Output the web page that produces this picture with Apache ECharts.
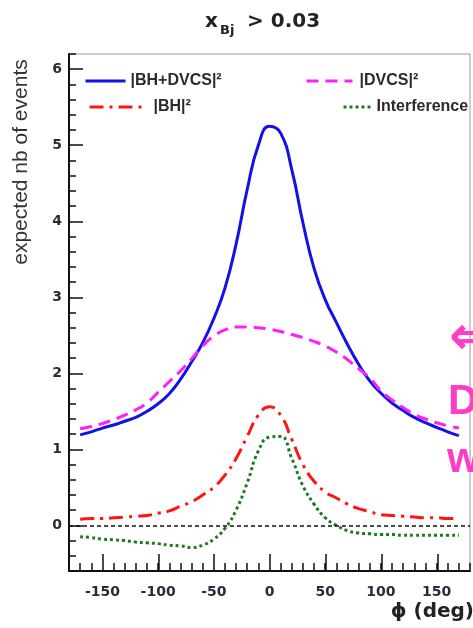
<!DOCTYPE html>
<html>
<head>
    <meta charset="UTF-8">
    <title>DVCS phi distribution</title>
    <script src="https://cdn.jsdelivr.net/npm/echarts@6/dist/echarts.min.js"></script>
    <style>
        html, body { margin: 0; padding: 0; background: #fff; }
    </style>
</head>
<body>
    <div id="main" style="width: 473px;height:628px;"></div>
</body>

<script>
  // phi (deg)
  const phi = [-170, -160, -150, -140, -130, -120, -110, -100, -90, -80, -70, -60, -50, -40, -30, -20, -10,
    0, 10, 20, 30, 40, 50, 60, 70, 80, 90, 100, 110, 120, 130, 140, 150, 160, 170]

  // |BH+DVCS|^2
  const bhDvcs = [1.19, 1.23, 1.28, 1.32, 1.37, 1.42, 1.50, 1.60, 1.73, 1.92, 2.15, 2.40, 2.72, 3.12, 3.70, 4.42, 5.00,
    5.25, 5.16, 4.68, 3.98, 3.38, 2.97, 2.67, 2.38, 2.12, 1.90, 1.74, 1.61, 1.51, 1.42, 1.35, 1.29, 1.23, 1.18]
  // |DVCS|^2
  const dvcs = [1.27, 1.30, 1.34, 1.39, 1.45, 1.52, 1.61, 1.75, 1.89, 2.03, 2.19, 2.36, 2.49, 2.57, 2.61, 2.61, 2.60,
    2.58, 2.55, 2.51, 2.47, 2.42, 2.36, 2.28, 2.18, 2.06, 1.94, 1.77, 1.65, 1.55, 1.46, 1.40, 1.35, 1.31, 1.28]
  // |BH|^2
  const bh = [0.08, 0.09, 0.09, 0.10, 0.11, 0.12, 0.13, 0.16, 0.19, 0.25, 0.31, 0.40, 0.50, 0.66, 0.88, 1.17, 1.45,
    1.56, 1.45, 1.13, 0.80, 0.58, 0.44, 0.36, 0.28, 0.22, 0.18, 0.14, 0.13, 0.12, 0.11, 0.10, 0.10, 0.09, 0.09]
  // Interference
  const interference = [-0.15, -0.16, -0.18, -0.19, -0.20, -0.22, -0.23, -0.24, -0.26, -0.27, -0.29, -0.26, -0.18, -0.04, 0.20, 0.56, 0.98,
    1.16, 1.17, 0.88, 0.52, 0.28, 0.10, 0.00, -0.07, -0.10, -0.11, -0.12, -0.12, -0.13, -0.13, -0.13, -0.13, -0.13, -0.13]

  // axis ranges: full frame and the span of the labelled (major) ticks
  const xRange = [-180, 180]
  const yRange = [-0.6, 6.2]
  const xMajorRange = [-150, 150]
  const yMajorRange = [0, 6]

  const names = ['|BH+DVCS|²', '|DVCS|²', '|BH|²', 'Interference']
  const colors = ['#1212e8', '#ff1eff', '#ff1414', '#1d7a1d']
  const dashes = ['solid', [12, 7], [14, 6, 3, 6], [3, 3]]

  const pts = ys => phi.map((x, i) => [x, ys[i]])

  const labelFont = {
    fontFamily: 'DejaVu Sans',
    fontWeight: 'bold',
    fontSize: 14,
    color: '#2a2a3a'
  }
  const tickLine = { color: '#111', width: 1.5 }

  // plot frame in pixels
  const W = 473, H = 628
  const frame = { left: 69, right: 2, top: 54, bottom: 57 }
  const pxX = (W - frame.left - frame.right) / (xRange[1] - xRange[0])
  const pxY = (H - frame.top - frame.bottom) / (yRange[1] - yRange[0])

  // extra grids that cover only the major-tick span, so plain interval ticks land on the labels
  const xMajorGrid = {
    left: frame.left + (xMajorRange[0] - xRange[0]) * pxX,
    width: (xMajorRange[1] - xMajorRange[0]) * pxX,
    top: frame.top,
    bottom: frame.bottom,
    show: false
  }
  const yMajorGrid = {
    left: frame.left,
    right: frame.right,
    top: frame.top + (yRange[1] - yMajorRange[1]) * pxY,
    height: (yMajorRange[1] - yMajorRange[0]) * pxY,
    show: false
  }

  const myChart = echarts.init(document.getElementById('main'))

  // one legend per entry, ROOT-like 2x2 placement
  function legendAt(i, left, top, width, gap) {
    return {
      data: [names[i]],
      left: left,
      top: top,
      padding: 0,
      itemWidth: width,
      itemHeight: 14,
      selectedMode: false,
      itemStyle: { opacity: 0 },
      lineStyle: { color: colors[i], width: 3, type: dashes[i] },
      textStyle: {
        fontFamily: 'Liberation Sans',
        fontWeight: 'bold',
        fontSize: 16,
        color: '#2b2b2b',
        padding: [0, 0, 0, gap]
      }
    }
  }

  function lineSeries(i, ys) {
    return {
      name: names[i],
      type: 'line',
      data: pts(ys),
      smooth: true,
      symbol: 'none',
      showSymbol: false,
      lineStyle: { color: colors[i], width: 3, type: dashes[i], cap: 'butt' },
      itemStyle: { color: colors[i] },
      z: 3
    }
  }

  function majorAxis(grid, range, step, length) {
    return {
      type: 'value',
      gridIndex: grid,
      min: range[0],
      max: range[1],
      interval: step,
      axisLine: { show: false, onZero: false },
      axisTick: { show: true, inside: true, length: length, lineStyle: tickLine },
      axisLabel: { show: false },
      splitLine: { show: false }
    }
  }
  const dummyAxis = grid => ({ type: 'value', gridIndex: grid, show: false, min: 0, max: 1 })

  const bhSeries = lineSeries(2, bh)
  // dashed zero line
  bhSeries.markLine = {
    silent: true,
    symbol: ['none', 'none'],
    label: { show: false },
    lineStyle: { color: '#111', width: 1.5, type: [4, 3] },
    data: [{ yAxis: 0 }]
  }

  const option = {
    animation: false,
    grid: [
      { ...frame, show: true, borderColor: '#9a9a9a', borderWidth: 1 },
      xMajorGrid,
      yMajorGrid
    ],
    legend: [
      legendAt(0, 84, 73, 40, 0),
      legendAt(1, 305, 73, 46, 2),
      legendAt(2, 88, 99, 53, 6),
      legendAt(3, 342, 99, 28, 0)
    ],
    xAxis: [
      {
        type: 'value',
        gridIndex: 0,
        min: xRange[0],
        max: xRange[1],
        interval: 10,
        axisLine: { show: true, onZero: false, lineStyle: { color: '#111', width: 2 } },
        axisTick: { show: true, inside: true, length: 8, lineStyle: tickLine },
        axisLabel: {
          ...labelFont,
          margin: 14,
          formatter: v => (v % 50 === 0 ? String(v) : '')
        },
        splitLine: { show: false }
      },
      majorAxis(1, xMajorRange, 50, 17),
      dummyAxis(2)
    ],
    yAxis: [
      {
        type: 'value',
        gridIndex: 0,
        min: yRange[0],
        max: yRange[1],
        interval: 0.2,
        axisLine: { show: true, onZero: false, lineStyle: { color: '#111', width: 2 } },
        axisTick: { show: true, inside: true, length: 7, lineStyle: tickLine },
        axisLabel: {
          ...labelFont,
          margin: 7,
          formatter: v => (Math.abs(v - Math.round(v)) < 1e-6 && v >= 0 && v <= 6 ? String(Math.round(v)) : '')
        },
        splitLine: { show: false }
      },
      dummyAxis(1),
      majorAxis(2, yMajorRange, 1, 14)
    ],
    series: [
      lineSeries(0, bhDvcs),
      lineSeries(1, dvcs),
      bhSeries,
      lineSeries(3, interference)
    ],
    graphic: [
      // title x_Bj > 0.03
      { type: 'text', x: 205, y: 22, style: { text: 'x', font: 'bold 20px "DejaVu Sans"', fill: '#222', textVerticalAlign: 'middle' } },
      { type: 'text', x: 220, y: 31, style: { text: 'Bj', font: 'bold 13px "DejaVu Sans"', fill: '#222', textVerticalAlign: 'middle' } },
      { type: 'text', x: 247, y: 22, style: { text: '> 0.03', font: 'bold 20px "DejaVu Sans"', fill: '#222', textVerticalAlign: 'middle' } },
      // axis titles
      {
        type: 'text', x: 21, y: 162, rotation: Math.PI / 2,
        style: { text: 'expected nb of events', font: '21px "Liberation Sans", sans-serif', fill: '#333', textAlign: 'center', textVerticalAlign: 'middle' }
      },
      { type: 'text', x: 474, y: 612, style: { text: 'ϕ (deg)', font: 'bold 20px "DejaVu Sans"', fill: '#222', textAlign: 'right', textVerticalAlign: 'middle' } },
      // slide annotation bleeding in from the right
      { type: 'text', x: 449, y: 340, style: { text: '⇐', font: 'bold 54px "DejaVu Sans"', fill: '#ff3cc8', textVerticalAlign: 'middle' } },
      { type: 'text', x: 448, y: 402, style: { text: 'D', font: 'bold 42px "Liberation Sans"', fill: '#ff3cc8', textVerticalAlign: 'middle' } },
      { type: 'text', x: 447, y: 460, style: { text: 'w', font: 'bold 42px "Liberation Sans"', fill: '#ff3cc8', textVerticalAlign: 'middle' } }
    ]
  }

  myChart.setOption(option)
</script>

</html>
